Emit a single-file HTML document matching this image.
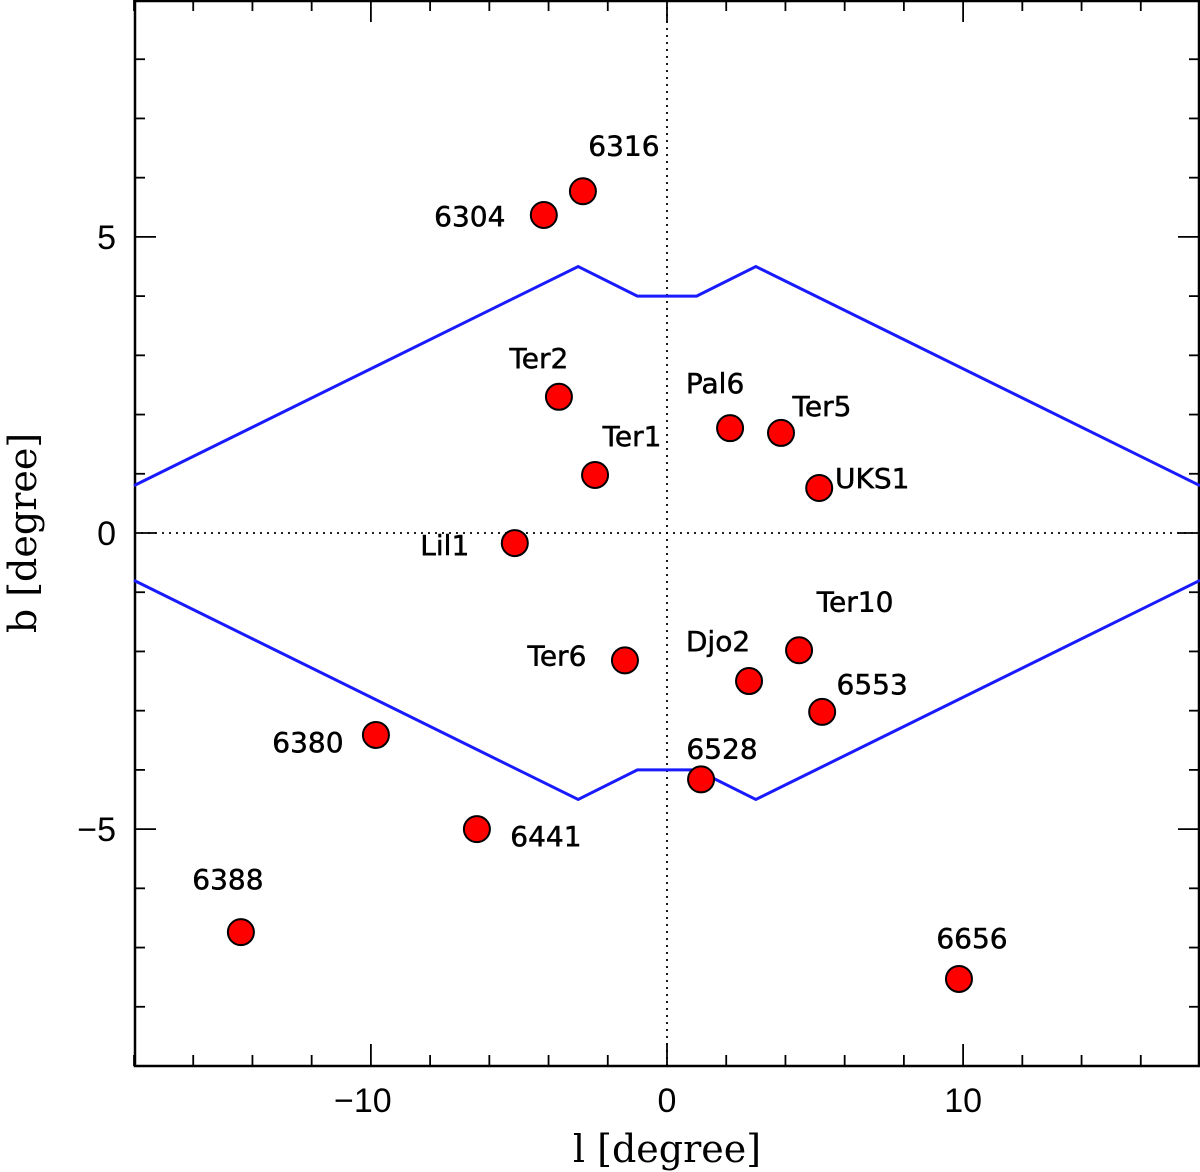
<!DOCTYPE html>
<html><head><meta charset="utf-8"><style>
body{margin:0;background:#fff}
svg{display:block;font-family:"Liberation Sans",sans-serif}
</style></head><body>
<svg id="chart" width="1200" height="1172">
<g id="g"></g>
</svg>
<script>
const names=["6316","6304","Ter2","Pal6","Ter5","Ter1","UKS1","Lil1","Ter10","Ter6","Djo2","6553","6380","6528","6441","6388","6656"];
const lVals=[-2.84,-4.16,-3.65,2.13,3.85,-2.43,5.14,-5.14,4.46,-1.42,2.77,5.24,-9.83,1.15,-6.42,-14.39,9.86];
const bVals=[5.77,5.37,2.30,1.77,1.69,0.98,0.76,-0.17,-1.98,-2.15,-2.50,-3.02,-3.41,-4.16,-5.00,-6.74,-7.53];
const boundL=[-18,-3,-1,1,3,18];
const boundB=[0.8,4.5,4,4,4.5,0.8];
const xTicks=[-10,0,10];
const yTicks=[-5,0,5];
const labelDx=[41,-74,-20,-15,41,37,53,-70,56,-68,-31,50,-68,21,69,-13,13];
const labelDy=[-46,1,-39,-45,-27,-39,-10,2,-49,-5,-40,-28,7,-31,7,-53,-41];

const X0=134,X1=1200,Y0=0,Y1=1066;
const xs=v=>X0+(v+18)/36*(X1-X0);
const ys=v=>Y1-(v+9)/18*(Y1-Y0);
const NS="http://www.w3.org/2000/svg";
const g=document.getElementById('g');
function mk(t,a){const e=document.createElementNS(NS,t);for(const k in a)e.setAttribute(k,a[k]);g.appendChild(e);return e;}

let e=mk('rect',{x:X0+1,y:Y0+1,width:X1-X0-2,height:Y1-Y0-1,fill:'none',stroke:'#000','stroke-width':2.5});

e=mk('line',{x1:xs(0),x2:xs(0),y1:Y0,y2:Y1,stroke:'#000','stroke-width':1.8,'stroke-dasharray':'2,5'});

e=mk('line',{x1:X0,x2:X1,y1:ys(0),y2:ys(0),stroke:'#000','stroke-width':1.8,'stroke-dasharray':'2,5'});


for(let v=-18;v<=18;v+=2){const x=xs(v);const L=(v%10===0)?22:11;
 e=mk('line',{x1:x,x2:x,y1:Y1,y2:Y1-L,stroke:'#000','stroke-width':1.8});
 
 e=mk('line',{x1:x,x2:x,y1:Y0,y2:Y0+L,stroke:'#000','stroke-width':1.8});
 }
for(let v=-9;v<=9;v++){const y=ys(v);const L=(v%5===0)?22:11;
 e=mk('line',{x1:X0,x2:X0+L,y1:y,y2:y,stroke:'#000','stroke-width':1.8});
 
 e=mk('line',{x1:X1,x2:X1-L,y1:y,y2:y,stroke:'#000','stroke-width':1.8});
 }
xTicks.forEach(v=>{e=mk('text',{x:xs(v)-(v<0?8:0),y:1112,'text-anchor':'middle','font-size':34});
 e.textContent=v<0?'\u2212'+(-v):String(v);
 });
yTicks.forEach(v=>{e=mk('text',{x:116,y:ys(v)+12,'text-anchor':'end','font-size':34});
 e.textContent=v<0?'\u2212'+(-v):String(v);
 });
e=mk('text',{x:667,y:1162,'text-anchor':'middle','font-size':38,'font-family':'DejaVu Serif, serif'});
e.textContent='l [degree]';
e=mk('text',{x:0,y:0,'text-anchor':'middle','font-size':38,'font-family':'DejaVu Serif, serif',transform:'translate(36,533) rotate(-90)'});
e.textContent='b [degree]';

[1,-1].forEach(s=>{const pts=boundL.map((l,i)=>xs(l)+','+ys(s*boundB[i])).join(' ');
 e=mk('polyline',{points:pts,fill:'none',stroke:'#1a1aff','stroke-width':3});
 });

names.forEach((n,i)=>{const cx=xs(lVals[i]),cy=ys(bVals[i]);
 e=mk('circle',{cx:cx,cy:cy,r:13,fill:'#f00',stroke:'#000','stroke-width':2});
 
 e=mk('text',{x:cx+labelDx[i],y:cy+labelDy[i]+10,'text-anchor':'middle','font-size':28,'font-family':'DejaVu Sans, sans-serif','stroke':'#000','stroke-width':0.5});
 e.textContent=n;
 });
</script>
</body></html>
